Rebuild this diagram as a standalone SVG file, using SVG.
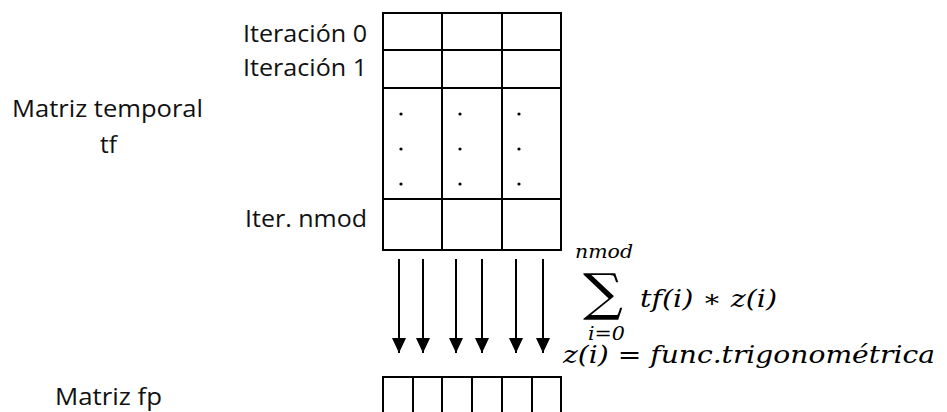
<svg xmlns="http://www.w3.org/2000/svg" width="947" height="412" viewBox="0 0 947 412">
<defs>
<style>
.lbl{font-family:"Open Sans","Liberation Sans",sans-serif;font-size:24px;fill:#111}
.m{font-family:"DejaVu Serif","Liberation Serif",serif;font-style:italic;fill:#000}
.g{stroke:#000;stroke-width:2;fill:none}
.ar{stroke:#000;stroke-width:2}
</style>
<marker id="ahd" markerWidth="15" markerHeight="14" refX="15" refY="7" orient="auto" markerUnits="userSpaceOnUse" viewBox="0 0 15 14">
<path d="M0,0 L15,7 L0,14 Z" fill="#000"/>
</marker>
</defs>
<rect width="947" height="412" fill="#fff"/>

<g id="tf-matrix">
<rect class="g" x="383" y="13" width="178" height="237"/>
<line class="g" x1="442" y1="13" x2="442" y2="250"/>
<line class="g" x1="502" y1="13" x2="502" y2="250"/>
<line class="g" x1="383" y1="50" x2="561" y2="50"/>
<line class="g" x1="383" y1="88" x2="561" y2="88"/>
<line class="g" x1="383" y1="199" x2="561" y2="199"/>
<g fill="#000">
<circle cx="401" cy="114" r="1.6"/><circle cx="460" cy="114" r="1.6"/><circle cx="519" cy="114" r="1.6"/>
<circle cx="401" cy="149" r="1.6"/><circle cx="460" cy="149" r="1.6"/><circle cx="519" cy="149" r="1.6"/>
<circle cx="401" cy="184" r="1.6"/><circle cx="460" cy="184" r="1.6"/><circle cx="519" cy="184" r="1.6"/>
</g>
</g>

<g id="row-labels">
<text class="lbl" x="243" y="42" textLength="124" lengthAdjust="spacingAndGlyphs">Iteración 0</text>
<text class="lbl" x="243" y="76" textLength="124" lengthAdjust="spacingAndGlyphs">Iteración 1</text>
<text class="lbl" x="245" y="227" textLength="122" lengthAdjust="spacingAndGlyphs">Iter. nmod</text>
</g>

<g id="tf-label">
<text class="lbl" x="12" y="117" textLength="191" lengthAdjust="spacingAndGlyphs">Matriz temporal</text>
<text class="lbl" x="100" y="153" textLength="17" lengthAdjust="spacingAndGlyphs">tf</text>
</g>

<g id="fp-matrix">
<polyline class="g" points="383,412 383,377 561,377 561,412"/>
<line class="g" x1="413" y1="377" x2="413" y2="412"/>
<line class="g" x1="442" y1="377" x2="442" y2="412"/>
<line class="g" x1="472" y1="377" x2="472" y2="412"/>
<line class="g" x1="502" y1="377" x2="502" y2="412"/>
<line class="g" x1="532" y1="377" x2="532" y2="412"/>
</g>

<g id="fp-label">
<text class="lbl" x="55" y="405" textLength="107" lengthAdjust="spacingAndGlyphs">Matriz fp</text>
</g>

<g id="connectors">
<line class="ar" x1="399" y1="259" x2="399" y2="353" marker-end="url(#ahd)"/>
<line class="ar" x1="423" y1="259" x2="423" y2="353" marker-end="url(#ahd)"/>
<line class="ar" x1="456" y1="259" x2="456" y2="353" marker-end="url(#ahd)"/>
<line class="ar" x1="482" y1="259" x2="482" y2="353" marker-end="url(#ahd)"/>
<line class="ar" x1="516" y1="259" x2="516" y2="353" marker-end="url(#ahd)"/>
<line class="ar" x1="543" y1="259" x2="543" y2="353" marker-end="url(#ahd)"/>
</g>

<g id="formula">
<text class="m" x="575" y="258" font-size="18" textLength="58" lengthAdjust="spacingAndGlyphs">nmod</text>
<text x="583" y="310" font-family="DejaVu Serif,serif" font-size="51" fill="#000" textLength="40" lengthAdjust="spacingAndGlyphs">∑</text>
<text class="m" x="640" y="307" font-size="24" textLength="137" lengthAdjust="spacingAndGlyphs">tf(i) ∗ z(i)</text>
<text class="m" x="588" y="340" font-size="18" textLength="37" lengthAdjust="spacingAndGlyphs">i=0</text>
<text class="m" x="563" y="363" font-size="24" textLength="372" lengthAdjust="spacingAndGlyphs">z(i) = func.trigonométrica</text>
</g>
</svg>
